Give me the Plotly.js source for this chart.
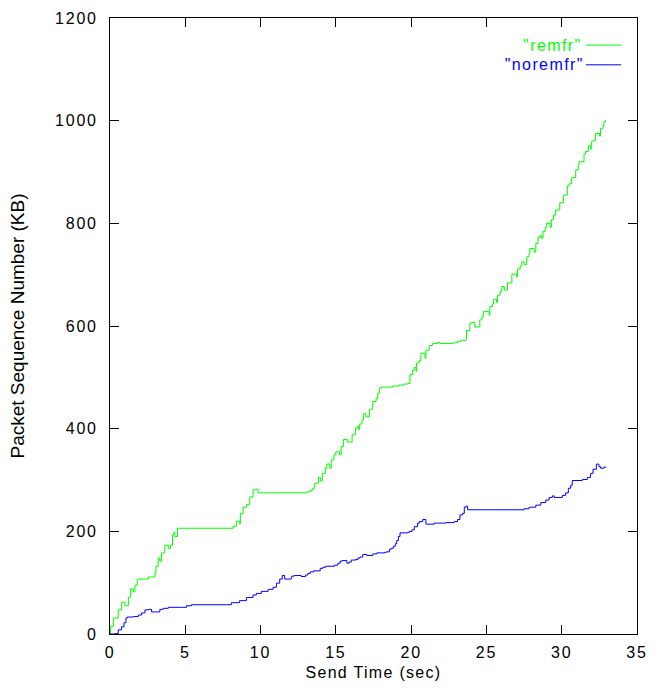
<!DOCTYPE html>
<html>
<head>
<meta charset="utf-8">
<script src="https://cdn.plot.ly/plotly-3.0.1.min.js"></script>
<style>
html,body{margin:0;padding:0;background:#fff;}
#chart{width:665px;height:693px;}
#chart .xtick text, #chart .ytick text{letter-spacing:1.8px;}
#chart .g-xtitle text{letter-spacing:1.3px;}
#chart .annotation-text{letter-spacing:1.4px;}
</style>
</head>
<body>
<div id="chart"></div>
<script>
// Send time (sec) and packet sequence number (KB) for each series
const remfrX = [0,0.04,0.22,0.55,0.77,0.99,1.22,1.37,1.55,1.66,1.81,2.54,2.98,3.05,3.2,3.31,3.42,3.64,3.87,4.02,4.15,4.24,4.31,4.48,7.84,8.17,8.39,8.61,8.66,8.84,9.06,9.28,9.5,9.56,9.83,12.99,13.07,13.3,13.47,13.6,13.85,13.97,14.1,14.3,14.4,14.6,14.69,14.87,15.0,15.24,15.35,15.5,15.76,16.08,16.3,16.4,16.5,16.56,16.74,16.83,17.0,17.23,17.45,17.67,17.78,17.89,18.0,18.76,19.2,19.5,19.8,19.92,20.1,20.2,20.32,20.36,20.54,20.65,20.92,20.98,21.2,21.43,21.76,21.87,22.75,23.08,23.3,23.64,23.68,23.9,24.0,24.23,24.56,24.7,24.79,25.18,25.23,25.4,25.47,25.67,25.74,25.91,26.02,26.18,26.4,26.69,27.0,27.06,27.24,27.35,27.5,27.68,27.83,27.88,28.17,28.28,28.43,28.56,28.67,28.76,28.9,28.98,29.23,29.31,29.45,29.6,29.87,30.11,30.37,30.48,30.66,30.93,31.1,31.15,31.48,31.59,31.77,31.92,31.99,32.14,32.25,32.52,32.58,32.74,32.8,32.91];
const remfrY = [0,15,31,47,62,55,72,88,82,95,107,111,117,132,148,142,158,173,167,173,193,198,190,206,206,210,220,215,235,247,252,267,280,282,275,275,277,280,284,294,305,298,313,323,331,323,339,349,355,349,365,379,374,388,401,404,398,409,417,429,423,438,453,459,469,479,481,483,485,487,488,505,514,519,512,528,533,547,537,553,562,566,568,566,567,570,572,574,591,605,607,598,612,618,628,621,638,643,652,646,660,667,677,670,684,701,696,711,717,725,720,735,741,751,744,761,773,776,771,784,792,800,792,807,816,826,840,855,873,877,889,904,914,920,935,940,951,945,960,962,975,970,985,989,998,1001];

const noremfrX = [0,0.33,0.55,0.77,0.93,1.06,1.15,1.55,1.88,2.1,2.32,2.54,2.76,3.2,3.31,3.53,3.87,4.75,5.08,5.41,7.73,8.06,8.61,9.06,9.5,9.72,10.05,10.5,10.83,11.05,11.27,11.44,11.6,12.04,12.1,12.26,12.7,12.99,13.14,13.3,13.52,13.96,14.14,14.32,14.91,15.13,15.29,15.42,15.73,15.86,16.02,16.3,16.46,16.61,16.79,17.05,17.45,17.72,18.23,18.34,18.56,18.67,18.82,18.95,19.04,19.15,19.26,19.77,19.88,20.06,20.21,20.43,20.54,20.77,20.98,21.54,22.31,22.86,23.08,23.24,23.42,23.53,23.64,23.75,27.17,27.5,27.83,28.28,28.61,28.94,29.16,29.38,29.5,30.04,30.26,30.44,30.6,30.7,31.37,31.7,31.92,32.08,32.3,32.47,32.58,32.8,32.96];
const noremfrY = [0,1,8,14,22,31,33,34,37,41,47,48,43,43,48,50,52,52,55,57,57,61,65,71,76,79,83,87,91,99,107,114,107,111,113,114,112,115,118,121,123,128,130,132,134,138,142,143,138,140,144,145,148,150,155,153,156,158,159,160,165,167,171,176,182,190,197,198,200,203,209,216,219,223,214,216,217,219,223,232,235,247,249,242,242,244,247,251,256,261,266,269,266,270,275,284,290,299,301,305,313,321,331,326,323,325,325];

const seriesNames = ['"remfr"', '"noremfr"'];
const seriesColors = ['#00ff00', '#0000ff'];
const xTicks = [0,5,10,15,20,25,30,35];
const yTicks = [0,200,400,600,800,1000,1200];

const FONT = 'Liberation Sans, Arial, sans-serif';

const traces = [
  {x: remfrX, y: remfrY, name: seriesNames[0], mode: 'lines', line: {color: seriesColors[0], width: 1, shape: 'hv'}},
  {x: noremfrX, y: noremfrY, name: seriesNames[1], mode: 'lines', line: {color: seriesColors[1], width: 1, shape: 'hv'}}
];

const legendY = [0.956, 0.924];
const annotations = seriesNames.map((n, i) => ({
  xref: 'paper', yref: 'paper', x: 0.889, y: legendY[i],
  xanchor: 'right', yanchor: 'middle', text: n, showarrow: false,
  font: {family: FONT, size: 16, color: seriesColors[i]}
}));
const shapes = seriesNames.map((n, i) => ({
  type: 'line', xref: 'paper', yref: 'paper',
  x0: 0.903, x1: 0.970, y0: legendY[i], y1: legendY[i],
  line: {color: seriesColors[i], width: 1}
}));

const layout = {
  width: 665, height: 693,
  margin: {l: 110, r: 28, t: 18, b: 59},
  paper_bgcolor: '#fff', plot_bgcolor: '#fff',
  showlegend: false,
  font: {family: FONT, size: 16, color: '#000'},
  xaxis: {
    range: [0, 35], tickvals: xTicks, ticktext: xTicks.map(String),
    ticks: 'inside', ticklen: 9, tickwidth: 1, tickcolor: '#000',
    showline: true, linecolor: '#000', linewidth: 1, mirror: 'ticks',
    showgrid: false, zeroline: false,
    ticklabelstandoff: 4,
    tickfont: {family: FONT, size: 16, color: '#000'},
    title: {text: 'Send Time (sec)', font: {family: FONT, size: 16, color: '#000'}, standoff: 6}
  },
  yaxis: {
    range: [0, 1200], tickvals: yTicks, ticktext: yTicks.map(String),
    ticks: 'inside', ticklen: 9, tickwidth: 1, tickcolor: '#000',
    showline: true, linecolor: '#000', linewidth: 1, mirror: 'ticks',
    showgrid: false, zeroline: false,
    ticklabelstandoff: 8,
    tickfont: {family: FONT, size: 16, color: '#000'},
    title: {text: 'Packet Sequence Number (KB)', font: {family: FONT, size: 19, color: '#000'}, standoff: 32}
  },
  annotations: annotations,
  shapes: shapes
};

Plotly.newPlot('chart', traces, layout, {staticPlot: true, displayModeBar: false});
</script>
</body>
</html>
